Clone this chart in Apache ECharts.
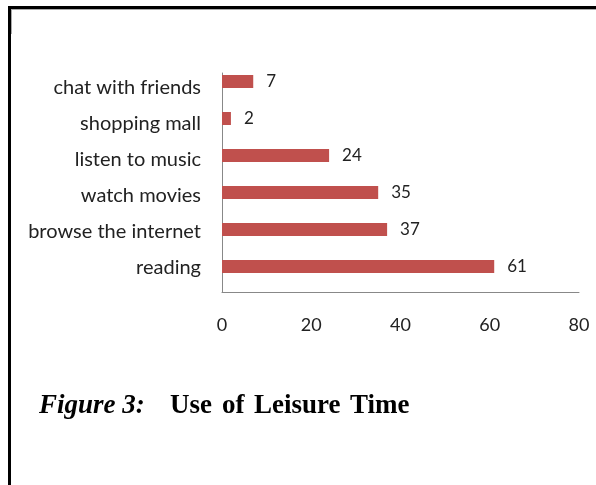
<!DOCTYPE html>
<html><head><meta charset="utf-8">
<script src="https://cdn.jsdelivr.net/npm/echarts@6/dist/echarts.min.js"></script>
<style>html,body{margin:0;padding:0;background:#fff}#c{width:596px;height:485px}</style>
</head><body><div id="c"></div>
<script>
const categories = ["reading","browse the internet","watch movies","listen to music","shopping mall","chat with friends"];
const values = [61,37,35,24,2,7];
const xTicks = [0,20,40,60,80];

const serif = 'Liberation Serif';
const tb = (w, italic) => ({fontFamily:serif,fontSize:27,fontWeight:'bold',fontStyle:italic?'italic':'normal',color:'#000',width:w});

const chart = echarts.init(document.getElementById('c'));
chart.setOption({
  animation:false,
  backgroundColor:'#fff',
  graphic:[
    {type:'rect',shape:{x:8,y:6,width:588,height:3},style:{fill:'#000'}},
    {type:'rect',shape:{x:8,y:6,width:3,height:479},style:{fill:'#000'}},
    {type:'rect',shape:{x:11,y:9,width:585,height:1},style:{fill:'#aaa'}},
    {type:'rect',shape:{x:11,y:9,width:1,height:25},style:{fill:'#aaa'}}
  ],
  title:{
    text:'{a|Figure 3:  }{b|Use }{c|of }{d|Leisure }{e|Time}',
    left:39, top:393, padding:0,
    textStyle:{rich:{a:tb(131,true),b:tb(52),c:tb(32),d:tb(96),e:tb(60)}}
  },
  grid:[
    {left:222,right:17,top:63,bottom:200,containLabel:false},
    {left:222,right:17,top:73,bottom:193,containLabel:false},
    {left:222,right:17,top:69,bottom:199,containLabel:false}
  ],
  xAxis:[
    {type:'value',gridIndex:0,min:0,max:80,interval:20,show:false,splitLine:{show:false}},
    {type:'value',gridIndex:1,min:0,max:80,interval:20,
      axisLine:{show:true,lineStyle:{color:'#888'}},
      axisTick:{show:false},
      splitLine:{show:false},
      axisLabel:{color:'#222',fontFamily:'Lato',fontSize:18,margin:24,
        formatter:v=>xTicks.includes(v)?String(v):''}},
    {type:'value',gridIndex:2,min:0,max:80,interval:20,show:false,splitLine:{show:false}}
  ],
  yAxis:[
    {type:'category',gridIndex:0,data:categories,show:false},
    {type:'category',gridIndex:1,data:categories,
      axisLine:{show:true,lineStyle:{color:'#888'}},
      axisTick:{show:false},axisLabel:{show:false}},
    {type:'category',gridIndex:2,data:categories,
      axisLine:{show:false},axisTick:{show:false},
      axisLabel:{color:'#222',fontFamily:'Lato',fontSize:20,margin:21}}
  ],
  series:[{
    type:'bar',xAxisIndex:0,yAxisIndex:0,data:values,barWidth:13,
    itemStyle:{color:'#C0504D'},
    label:{show:true,position:'right',distance:13,color:'#222',fontFamily:'Lato',fontSize:17}
  }]
});
</script></body></html>
